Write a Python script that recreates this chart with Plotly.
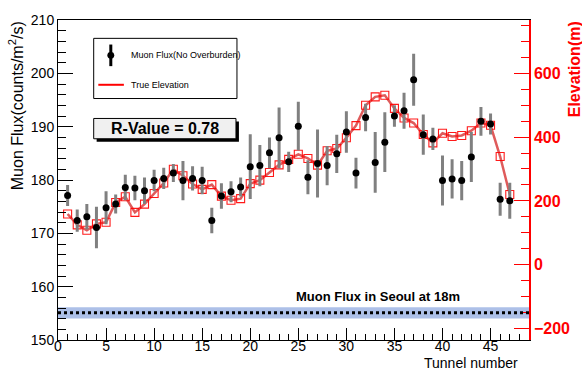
import plotly.graph_objects as go

# ---------------- data ----------------
tunnel = list(range(1, 48))
flux = [177.1, 172.4, 173.1, 171.1, 174.8, 175.5, 178.6, 178.5, 178.0, 179.9,
        180.3, 181.3, 179.9, 180.3, 179.9, 172.4, 177.0, 177.8, 178.7, 182.5,
        182.7, 185.1, 187.9, 183.4, 190.1, 180.5, 183.1, 182.7, 184.9, 189.0,
        181.3, 191.7, 183.3, 187.1, 192.0, 193.0, 198.8, 188.5, 187.7, 179.9,
        180.2, 179.9, 184.3, 191.0, 190.5, 176.4, 176.1]
flux_err = [1.7, 1.8, 2.1, 3.6, 2.8, 1.5, 2.1, 2.0, 2.2, 1.75,
            1.7, 1.4, 3.4, 2.0, 2.3, 2.1, 2.1, 1.7, 1.5, 5.8,
            3.6, 2.6, 5.4, 1.6, 4.3, 2.9, 6.1, 3.4, 3.3, 3.6,
            2.6, 2.3, 5.4, 5.3, 1.75, 3.1, 4.6, 3.5, 1.8, 4.4,
            3.4, 3.4, 4.4, 2.4, 1.7, 2.8, 3.1]
elevation = [159, 125, 108, 128, 133, 195, 213, 164, 190, 223,
             256, 299, 279, 253, 236, 251, 215, 202, 207, 254,
             265, 289, 313, 330, 346, 333, 312, 357, 364, 398,
             436, 500, 526, 531, 490, 460, 444, 408, 382, 412,
             402, 405, 420, 444, 437, 339, 220]
seoul_flux = 155.1
seoul_err = 1.05
r_value = 0.78

FONT = "Liberation Sans"

# pixel helpers for the layout frame
L, R, T, B = 58, 45, 14, 31
W, H = 582, 371
PW, PH = W - L - R, H - T - B
def px(x):
    return (x - L) / PW
def py(y):
    return (H - B - y) / PH

fig = go.Figure()

fig.add_trace(go.Scatter(
    x=tunnel, y=elevation, yaxis="y", mode="lines+markers",
    line=dict(color="rgba(215,50,50,0.8)", width=2.5),
    marker=dict(symbol="square-open", size=8, color="rgba(255,0,0,0.9)",
                line=dict(width=1.1)),
    showlegend=False))

fig.add_trace(go.Scatter(
    x=tunnel, y=flux, yaxis="y2", mode="markers",
    marker=dict(color="black", size=7),
    error_y=dict(type="data", array=flux_err, color="#808080",
                 thickness=3, width=1.5),
    showlegend=False))

shapes = [
    dict(type="rect", xref="x", yref="y2", x0=0, x1=49,
         y0=seoul_flux - seoul_err, y1=seoul_flux + seoul_err,
         fillcolor="#adc0e8", line=dict(width=0), layer="below"),
    dict(type="line", xref="x", yref="y2", x0=0, x1=49,
         y0=seoul_flux, y1=seoul_flux,
         line=dict(color="black", width=3, dash="dot")),
    # legend box
    dict(type="rect", xref="paper", yref="paper",
         x0=px(94.3), x1=px(240), y0=py(94), y1=py(32.7),
         fillcolor="white", line=dict(color="black", width=1)),
    dict(type="line", xref="paper", yref="paper",
         x0=px(111.7), x1=px(111.7), y0=py(61), y1=py(39),
         line=dict(color="black", width=3)),
    dict(type="circle", xref="paper", yref="paper",
         x0=px(108.2), x1=px(115.2), y0=py(53.5), y1=py(46.5),
         fillcolor="black", line=dict(color="black", width=0)),
    dict(type="line", xref="paper", yref="paper",
         x0=px(99), x1=px(125), y0=py(80), y1=py(80),
         line=dict(color="red", width=2)),
    # R-value box with shadow
    dict(type="rect", xref="paper", yref="paper",
         x0=px(97.3), x1=px(242), y0=py(138), y1=py(117.3),
         fillcolor="black", line=dict(width=0)),
    dict(type="rect", xref="paper", yref="paper",
         x0=px(94.3), x1=px(239), y0=py(135), y1=py(114.3),
         fillcolor="#f0f0f0", line=dict(color="black", width=1)),
]

annotations = [
    dict(text=f"<b>R-Value = {r_value}</b>", xref="paper", yref="paper",
         x=px(166.6), y=py(124.6), xanchor="center", yanchor="middle",
         showarrow=False,
         font=dict(family=FONT, size=16, color="black")),
    dict(text="Muon Flux(No Overburden)", xref="paper", yref="paper",
         x=px(130), y=py(50), xanchor="left", yanchor="middle", showarrow=False,
         font=dict(family=FONT, size=9, color="black")),
    dict(text="True Elevation", xref="paper", yref="paper",
         x=px(130), y=py(80), xanchor="left", yanchor="middle", showarrow=False,
         font=dict(family=FONT, size=9, color="black")),
    dict(text="<b>Muon Flux in Seoul at 18m</b>", xref="paper", yref="paper",
         x=px(383), y=py(296), xanchor="center", yanchor="middle",
         showarrow=False,
         font=dict(family=FONT, size=13, color="black")),
    dict(text="Muon Flux(counts/m<sup>2</sup>/s)", xref="paper", yref="paper",
         x=px(15), y=py(13), xanchor="center", yanchor="top", textangle=-90,
         showarrow=False, font=dict(family=FONT, size=16, color="black")),
    dict(text="<b>Elevation(m)</b>", xref="paper", yref="paper",
         x=px(583), y=py(13), xanchor="center", yanchor="top", textangle=-90,
         showarrow=False, font=dict(family=FONT, size=16, color="red")),
    dict(text="Tunnel number", xref="paper", yref="paper",
         x=px(528), y=py(363), xanchor="right", yanchor="middle",
         showarrow=False, font=dict(family=FONT, size=14, color="black")),
]

fig.update_layout(
    width=W, height=H,
    margin=dict(l=L, r=R, t=T, b=B, pad=0),
    paper_bgcolor="white", plot_bgcolor="white",
    showlegend=False,
    shapes=shapes, annotations=annotations,
    xaxis=dict(range=[0, 49], tick0=0, dtick=5, ticks="inside", ticklen=12,
               tickcolor="black", tickwidth=1, ticklabelstandoff=-7,
               minor=dict(dtick=1, ticks="inside", ticklen=6, tickcolor="black"),
               showline=True, linecolor="black", linewidth=1, mirror=True,
               showgrid=False, zeroline=False,
               tickfont=dict(family=FONT, size=14, color="black")),
    yaxis=dict(side="right", range=[-236, 767], tick0=0, dtick=200,
               ticks="inside", ticklen=15, tickcolor="red", tickwidth=1,
               minor=dict(dtick=50, ticks="inside", ticklen=8, tickcolor="red"),
               showline=True, linecolor="red", linewidth=1.5,
               showgrid=False, zeroline=False,
               tickfont=dict(family=FONT, size=16, color="red", weight="bold")),
    yaxis2=dict(overlaying="y", side="left", anchor="x", range=[150, 210],
                tick0=150, dtick=10, ticks="inside", ticklen=15,
                tickcolor="black", tickwidth=1,
                minor=dict(dtick=2, ticks="inside", ticklen=8, tickcolor="black"),
                showline=True, linecolor="black", linewidth=1,
                showgrid=False, zeroline=False,
                tickfont=dict(family=FONT, size=14, color="black")),
)

fig.write_html("out.html")
